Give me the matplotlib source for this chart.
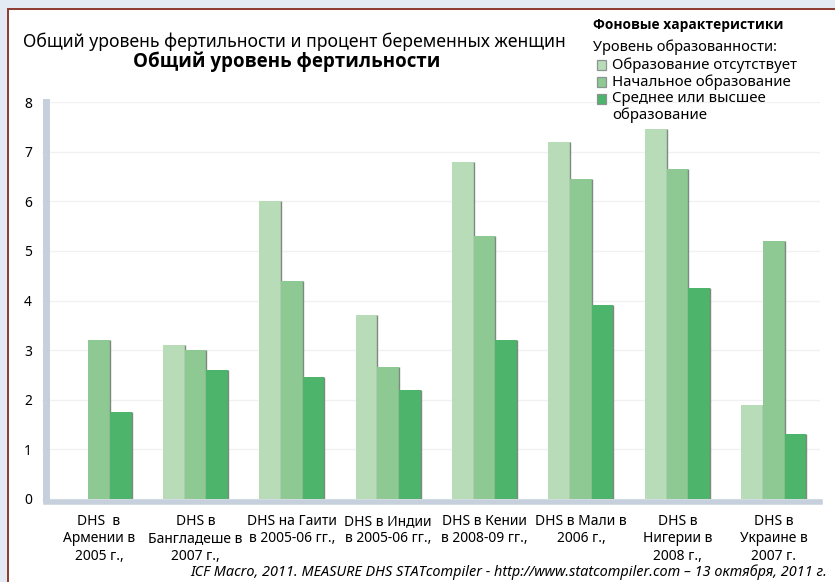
import matplotlib as mpl
mpl.use("Agg")
import matplotlib.pyplot as plt
from matplotlib.patches import Rectangle
import numpy as np

#
# --- Chart data
#
CATEGORIES = [
    "DHS  в\nАрмении в\n2005 г.,",
    "DHS в\nБангладеше в\n2007 г.,",
    "DHS на Гаити\nв 2005-06 гг.,",
    "DHS в Индии\nв 2005-06 гг.,",
    "DHS в Кении\nв 2008-09 гг.,",
    "DHS в Мали в\n2006 г.,",
    "DHS в\nНигерии в\n2008 г.,",
    "DHS в\nУкраине в\n2007 г.",
]
NO_EDUCATION = [0.0, 3.1, 6.0, 3.7, 6.8, 7.2, 7.45, 1.9]
PRIMARY = [3.2, 3.0, 4.4, 2.65, 5.3, 6.45, 6.65, 5.2]
SECONDARY = [1.75, 2.6, 2.45, 2.2, 3.2, 3.9, 4.25, 1.3]
SERIES_LABELS = [
    "Образование отсутствует",
    "Начальное образование",
    "Среднее или высшее\nобразование",
]
Y_TICKS = [0, 1, 2, 3, 4, 5, 6, 7, 8]

COLORS = ["#b9dcb8", "#8ec892", "#4cb46b"]
AXIS_COLOR = "#c6d0dc"
BOLD_FAMILY = ["Open Sans", "DejaVu Sans"]

plt.rcParams["font.family"] = ["Noto Sans", "DejaVu Sans"]

W, H = 835, 582
fig = plt.figure(figsize=(W / 100, H / 100), dpi=100, facecolor="#e3eaf3")

#
# --- white panel with dark red frame (right/bottom edges run off the picture)
#
fig.patches.append(
    Rectangle((8 / W, -0.1), 1.2, 1.1 - 9 / H, transform=fig.transFigure,
              facecolor="white", edgecolor="#8c3a2e", lw=1.4, zorder=-5)
)

ax = fig.add_axes([46 / W, 83 / H, 774 / W, 397 / H])
ax.set_facecolor("none")

x = np.arange(len(CATEGORIES))
bw = 0.225
series = [NO_EDUCATION, PRIMARY, SECONDARY]
for i, vals in enumerate(series):
    bars = ax.bar(x + (i - 1) * bw, vals, width=bw, color=COLORS[i],
                  edgecolor="none", zorder=2 + i * 0.1)
    #
    # --- thin dark shadow on the right side of each bar
    #
    for b in bars:
        if b.get_height() > 0:
            xr = b.get_x() + b.get_width()
            ax.plot([xr, xr], [0, b.get_height()], color="#7d8a7f",
                    lw=1.0, zorder=2.05 + i * 0.1, solid_capstyle="butt")

ax.set_xlim(-0.55, 7.48)
ax.set_ylim(0, 8)
ax.set_yticks(Y_TICKS)
ax.set_yticklabels([str(t) for t in Y_TICKS], fontsize=10)
ax.set_xticks(x)
ax.set_xticklabels(CATEGORIES, fontsize=10, linespacing=1.2)
ax.tick_params(axis="x", length=0, pad=9)
ax.tick_params(axis="y", length=3, color="#dfe5ec", pad=7)

ax.yaxis.grid(True, color="#f1f1f1", lw=1)
ax.set_axisbelow(True)

for s in ["top", "right"]:
    ax.spines[s].set_visible(False)
ax.spines["left"].set_color(AXIS_COLOR)
ax.spines["left"].set_linewidth(5)
ax.spines["bottom"].set_color(AXIS_COLOR)
ax.spines["bottom"].set_linewidth(4)
ax.spines["bottom"].set_position(("outward", 2))

#
# --- titles
#
fig.text(23 / W, 1 - 42 / H, "Общий уровень фертильности и процент беременных женщин",
         fontsize=12.7, ha="left", va="center")
fig.text(287 / W, 1 - 62 / H, "Общий уровень фертильности",
         fontsize=13.5, fontweight="bold", family=BOLD_FAMILY,
         ha="center", va="center")

#
# --- legend block (squares sit on the first line of each entry)
#
fig.text(593 / W, 1 - 25 / H, "Фоновые характеристики", fontsize=9.9,
         fontweight="bold", family=BOLD_FAMILY, ha="left", va="center")
fig.text(593 / W, 1 - 47 / H, "Уровень образованности:", fontsize=10.5,
         ha="left", va="center")
entry_y = [65, 82, 99]
for c, lab, yy in zip(COLORS, SERIES_LABELS, entry_y):
    fig.patches.append(
        Rectangle((597 / W, 1 - (yy + 5) / H), 9 / W, 10 / H,
                  transform=fig.transFigure, facecolor=c,
                  edgecolor="#8a9490", lw=0.9)
    )
    fig.text(612 / W, 1 - (yy - 8) / H, lab, fontsize=10.8, ha="left",
             va="top", linespacing=1.15)

#
# --- source line
#
fig.text(827 / W, 1 - 572 / H,
         "ICF Macro, 2011. MEASURE DHS STATcompiler - http://www.statcompiler.com – 13 октября, 2011 г.",
         fontsize=10.4, style="italic", ha="right", va="center")

plt.savefig("out.png", dpi=100, facecolor=fig.get_facecolor())
